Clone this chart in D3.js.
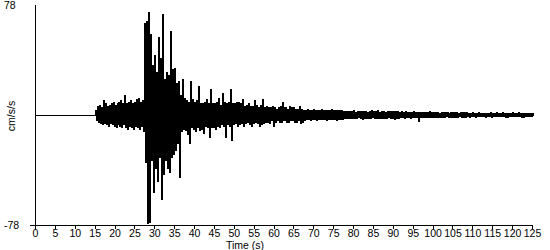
<!DOCTYPE html>
<html>
<head>
<meta charset="utf-8">
<script src="https://cdn.jsdelivr.net/npm/d3@7"></script>
<style>
  html, body { margin: 0; padding: 0; background: #fff; }
  svg { display: block; }
  text { font-family: "Liberation Sans", Arial, sans-serif; font-size: 10.5px; fill: #000; }
</style>
</head>
<body>
<svg id="chart" width="550" height="250"></svg>
<script>
// ---- data ----
const xTicks = [0,5,10,15,20,25,30,35,40,45,50,55,60,65,70,75,80,85,90,95,100,105,110,115,120,125];
const yTickLabels = ["78", "-78"];
const yTickValues = [78, -78];
const xLabel = "Time (s)";
const yLabel = "cm/s/s";
const quietStart = [0, 0];          // time, value before the record begins
const t0 = 15, dt = 0.25;            // accel sample start / step (s)
const accel = [
  0, 3, -4, 6,  -5, 7, -6, 5,  -7, 10, -6, 8,  -7, 6, -8, 7,  -6, 8, -7, 9,
  -8, 7, -9, 8,  -7, 9, -8, 10,  -9, 8, -7, 14,  -9, 8, -10, 9,  -8, 10, -9, 8,
  -10, 9, -8, 11,  -9, 12, -10, 9,  -8, 10, -12, 65,
  -34, 66, -77, 73,  -76, 57, -32, 35,  -55, 42, -38, 30,  -47, 55, -30, 40,
  -60, 71, -42, 25,  -32, 30, -38, 28,  -41, 59, -30, 32,  -28, 33, -25, 22,
  -20, 24, -44, 14,  -12, 25, -10, 12,  -11, 10, -14, 9,  -20, 24, -9, 11,
  -10, 9, -12, 10,  -9, 20, -11, 8,  -10, 8, -13, 9,  -8, 11, -9, 8,
  -16, 18, -9, 8,  -9, 8, -10, 9,  -8, 12, -9, 7,  -7, 15, -8, 9,
  -16, 8, -7, 9,  -8, 18, -18, 8,  -7, 8, -6, 9,  -8, 9, -7, 8,
  -6, 11, -8, 6,  -6, 7, -5, 8,  -7, 6, -8, 6,  -6, 10, -5, 7,
  -6, 5, -8, 7,  -7, 11, -6, 5,  -5, 6, -5, 5,  -6, 5, -4, 6,
  -8, 5, -5, 4,  -4, 5, -5, 6,  -5, 9, -4, 5,  -4, 5, -5, 4,
  -5, 6, -4, 5,  -4, 5, -5, 4,  -5, 4, -4, 6,  -6, 4, -5, 3,
  -4, 3.5, -3, 4,  -3.5, 3, -4, 3,  -3, 4, -3.5, 3,  -4, 3, -3, 3.5,
  -3, 4, -3, 3,  -3.5, 3, -4, 3,  -3, 3.5, -3, 4,  -3, 3, -3.5, 3,
  -4, 3, -3, 3,  -3, 3.5, -3, 2.5,
  -2.5, 2.8, -2.2, 2.4,  -2.6, 2.2, -2.8, 2.5,  -2.2, 3.4, -2.4, 2.1,  -2.7, 2.3, -2.1, 2.6,
  -2.4, 2.5, -3.3, 2.2,  -2.3, 2.7, -2.5, 2.0,  -2.8, 2.2, -2.2, 2.9,  -2.1, 2.4, -2.6, 2.3,
  -2.5, 3.2, -2.3, 2.1,  -2.2, 2.5, -2.7, 2.4,  -2.6, 2.1, -2.3, 2.6,  -2.0, 2.7, -2.5, 2.2,
  -2.4, 2.3, -3.0, 2.5,  -2.3, 2.6, -2.2, 2.0,
  -1.9, 2.2, -2.1, 1.8,  -2.2, 2.6, -1.8, 2.0,  -2.0, 1.7, -2.4, 2.1,  -1.8, 2.3, -2.0, 1.9,
  -2.1, 1.8, -4.3, 2.0,
  -1.7, 1.9, -1.6, 1.8,  -1.8, 1.5, -1.9, 1.7,  -1.6, 2.2, -1.7, 1.5,  -1.9, 1.6, -1.5, 1.8,
  -1.5, 1.9, -1.8, 1.4,  -1.7, 1.5, -2.0, 1.7,  -1.6, 1.8, -1.4, 1.9,  -1.8, 1.4, -1.7, 1.6,
  -1.5, 1.7, -1.9, 1.5,  -1.7, 2.0, -1.6, 1.4,  -1.4, 1.6, -1.8, 1.7,  -1.6, 1.5, -1.5, 1.8,
  -1.4, 1.3, -1.5, 1.4,  -1.3, 1.5, -1.2, 1.3,  -1.5, 1.2, -1.4, 1.6,  -1.2, 1.4, -1.3, 1.2,
  -1.4, 1.3, -1.5, 1.4,  -1.3, 1.2, -1.2, 1.5,  -1.5, 1.4, -1.3, 1.2,  -1.2, 1.5, -1.4, 1.3,
  -1.4, 1.2, -1.3, 1.6,  -1.3, 1.4, -1.5, 1.2,  -1.5, 1.3, -1.2, 1.4,  -1.2, 1.5, -1.4, 1.3,
  -1.4, 1.2, -1.3, 1.5,  -1.3, 1.4, -1.5, 1.2,  -1.5, 1.3, -1.2, 1.4,  -1.2, 1.4, -1.4, 1.3,
  -1.3, 1.2, 0
];

// ---- chart ----
const svg = d3.select("#chart");
const x = d3.scaleLinear().domain([0, 125]).range([35, 532]);
const y = d3.scaleLinear().domain([-78, 78]).range([225, 5]);

const points = [quietStart].concat(accel.map((v, i) => [t0 + i * dt, v]));

svg.append("path")
  .datum(points)
  .attr("fill", "none")
  .attr("stroke", "#000")
  .attr("stroke-width", 1)
  .attr("shape-rendering", "crispEdges")
  .attr("d", d3.line().curve(d3.curveStep).x(d => x(d[0])).y(d => y(d[1])));

// x axis
const xAxis = d3.axisBottom(x).tickValues(xTicks).tickSize(4).tickSizeOuter(0).tickFormat(d3.format("d"));
const gx = svg.append("g").attr("transform", `translate(0,${y(-78)})`).call(xAxis);
gx.select(".domain").attr("d", `M${x(0) - 5},0.5H${x(125)}`).attr("stroke", "#000").attr("shape-rendering", "crispEdges");
gx.selectAll(".tick line").attr("stroke", "#000").attr("shape-rendering", "crispEdges");
gx.selectAll(".tick text").attr("y", 5).attr("dy", "0.71em")
  .style("font-family", '"Liberation Sans", Arial, sans-serif').style("font-size", "10.5px");

// y axis line
svg.append("line")
  .attr("x1", x(0) + 0.5).attr("x2", x(0) + 0.5)
  .attr("y1", y(78)).attr("y2", y(-78))
  .attr("stroke", "#000").attr("shape-rendering", "crispEdges");

// y tick labels
svg.selectAll(".ylab").data(yTickValues).enter().append("text")
  .attr("class", "ylab")
  .attr("x", 4)
  .attr("y", d => y(d))
  .attr("dy", "0.35em")
  .attr("text-anchor", "start")
  .text((d, i) => yTickLabels[i]);

// axis titles
svg.append("text").attr("x", 245).attr("y", 249).attr("text-anchor", "middle").text(xLabel);
svg.append("text").attr("transform", `translate(15,116) rotate(-90)`).attr("text-anchor", "middle").text(yLabel);
</script>
</body>
</html>
